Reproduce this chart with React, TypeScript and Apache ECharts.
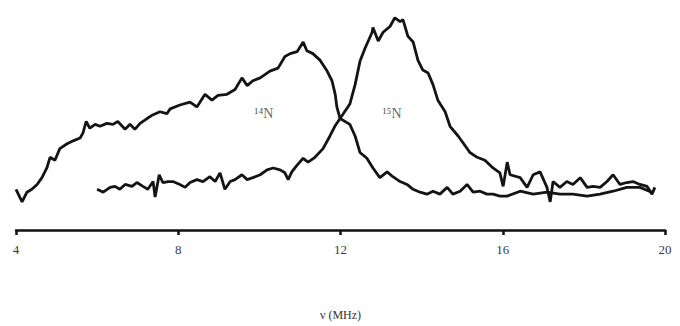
import React, { useEffect, useRef } from "react";
import * as echarts from "echarts";

// 14N spectrum: frequency (MHz) and intensity (arb. units)
const freq14 = [4.0, 4.15, 4.27, 4.39, 4.52, 4.64, 4.76, 4.84, 4.96, 5.08, 5.26, 5.41, 5.58, 5.65, 5.73, 5.82, 5.95, 6.07, 6.24, 6.39, 6.51, 6.69, 6.81, 6.93, 7.06, 7.23, 7.38, 7.55, 7.72, 7.8, 8.04, 8.29, 8.46, 8.66, 8.83, 8.98, 9.2, 9.4, 9.57, 9.7, 9.84, 10.02, 10.26, 10.46, 10.63, 10.76, 10.93, 11.08, 11.17, 11.32, 11.5, 11.67, 11.79, 11.87, 11.91, 11.99, 12.23, 12.36, 12.48, 12.65, 12.8, 12.97, 13.15, 13.29, 13.47, 13.64, 13.79, 13.96, 14.13, 14.28, 14.45, 14.63, 14.77, 14.95, 15.12, 15.27, 15.44, 15.61, 15.76, 15.93, 16.11, 16.43, 16.75, 17.09, 17.41, 17.73, 18.08, 18.4, 18.72, 19.06, 19.38, 19.68];
const int14 = [5, -8, 2, 5, 10, 17, 27, 38, 35, 47, 52, 55, 58, 63, 75, 68, 72, 70, 73, 72, 75, 67, 72, 67, 73, 78, 82, 85, 83, 88, 92, 95, 90, 103, 97, 102, 103, 108, 120, 112, 117, 120, 127, 130, 142, 145, 147, 157, 148, 145, 138, 127, 117, 103, 90, 78, 72, 60, 43, 37, 27, 17, 23, 18, 13, 10, 5, 2, 0, 3, 0, 7, 0, 3, 10, 2, 3, 0, 0, -2, -2, 3, 0, 2, 0, 0, -2, 0, 3, 7, 7, 2];

// 15N spectrum
const freq15 = [6.0, 6.15, 6.32, 6.44, 6.56, 6.69, 6.86, 6.98, 7.13, 7.25, 7.38, 7.43, 7.53, 7.62, 7.75, 7.87, 8.04, 8.17, 8.29, 8.46, 8.61, 8.78, 8.91, 9.03, 9.15, 9.28, 9.4, 9.57, 9.7, 9.84, 10.02, 10.19, 10.34, 10.51, 10.63, 10.71, 10.8, 10.93, 11.08, 11.2, 11.37, 11.57, 11.74, 11.86, 11.99, 12.23, 12.36, 12.48, 12.6, 12.78, 12.8, 12.93, 13.05, 13.22, 13.34, 13.47, 13.54, 13.66, 13.79, 13.91, 14.03, 14.16, 14.28, 14.4, 14.58, 14.7, 14.9, 15.02, 15.19, 15.37, 15.56, 15.76, 15.93, 16.01, 16.11, 16.18, 16.43, 16.6, 16.75, 16.92, 17.09, 17.17, 17.24, 17.41, 17.58, 17.73, 17.91, 18.08, 18.23, 18.4, 18.57, 18.72, 18.89, 19.06, 19.21, 19.38, 19.56, 19.68, 19.75];
const int15 = [5, 2, 7, 8, 5, 10, 8, 12, 8, 5, 13, -3, 20, 12, 13, 13, 10, 7, 12, 15, 13, 18, 13, 22, 5, 13, 15, 20, 15, 17, 20, 25, 27, 25, 22, 15, 23, 30, 37, 33, 38, 47, 60, 70, 78, 93, 113, 137, 150, 167, 172, 158, 167, 173, 182, 178, 180, 163, 157, 138, 128, 125, 113, 97, 85, 70, 60, 53, 43, 38, 35, 27, 22, 8, 33, 20, 17, 7, 20, 23, 7, -8, 13, 7, 13, 10, 17, 7, 8, 7, 13, 20, 10, 12, 13, 10, 8, 0, 7];

const xTicks = [4, 8, 12, 16, 20];
const xAxisName = "ν (MHz)";
const labels = [
  { text: "¹⁴N", f: 10.11, i: 83 },
  { text: "¹⁵N", f: 13.27, i: 83 },
];

const zip = (a: number[], b: number[]) => a.map((v, k) => [v, b[k]]);

export default function App() {
  const ref = useRef<HTMLDivElement>(null);
  useEffect(() => {
    if (!ref.current) return;
    const chart = echarts.init(ref.current, null, { renderer: "svg" });
    const lineStyle = { color: "#141414", width: 2.8 };
    chart.setOption({
      animation: false,
      backgroundColor: "#ffffff",
      grid: { left: 16, right: 15, top: 10, bottom: 89, containLabel: false },
      xAxis: {
        type: "value",
        min: xTicks[0],
        max: xTicks[xTicks.length - 1],
        interval: 4,
        splitLine: { show: false },
        axisLine: { onZero: false, lineStyle: { color: "#111", width: 2.5 } },
        axisTick: { show: true, length: 5, lineStyle: { color: "#111", width: 2.5 } },
        axisLabel: {
          color: "#3a3a3a",
          fontFamily: "Liberation Serif",
          fontSize: 13,
          margin: 13,
        },
        name: xAxisName,
        nameLocation: "middle",
        nameGap: 79,
        nameTextStyle: { color: "#333", fontFamily: "Liberation Serif", fontSize: 12 },
      },
      yAxis: {
        type: "value",
        min: -37,
        max: 190,
        show: false,
        splitLine: { show: false },
      },
      series: [
        {
          name: "14N",
          type: "line",
          data: zip(freq14, int14),
          showSymbol: false,
          lineStyle,
          itemStyle: { color: "#141414" },
        },
        {
          name: "15N",
          type: "line",
          data: zip(freq15, int15),
          showSymbol: false,
          lineStyle,
          itemStyle: { color: "#141414" },
        },
        {
          type: "scatter",
          data: labels.map((l) => [l.f, l.i, l.text]),
          symbolSize: 0,
          label: {
            show: true,
            position: "inside",
            formatter: (p: any) => p.data[2],
            color: "#3a3a3a",
            fontFamily: "Liberation Serif",
            fontSize: 14,
          },
          silent: true,
        },
      ],
    });
    return () => chart.dispose();
  }, []);
  return (
    <div
      ref={ref}
      style={{ position: "fixed", left: 0, top: 0, width: 680, height: 326, background: "#fff" }}
    />
  );
}
